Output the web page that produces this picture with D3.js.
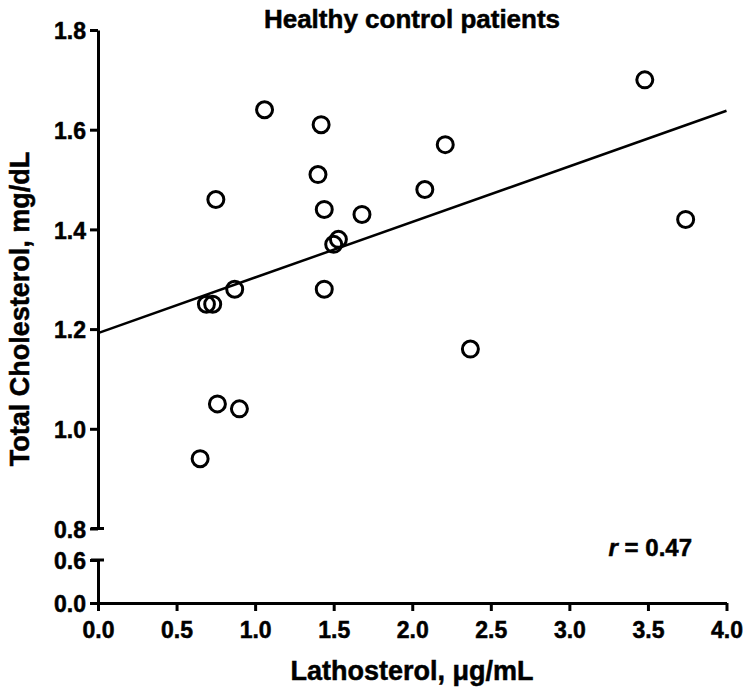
<!DOCTYPE html>
<html>
<head>
<meta charset="utf-8">
<script src="https://cdn.jsdelivr.net/npm/d3@7"></script>
<style>
  html, body { margin: 0; padding: 0; background: #fff; }
  svg { display: block; }
  text { font-family: "Liberation Sans", Arial, Helvetica, sans-serif; font-weight: bold; fill: #000; stroke: #000; stroke-width: 0.5px; }
</style>
</head>
<body>
<svg id="chart" width="751" height="695"></svg>
<script>
// ---- data ----
const lathosterol = [1.06, 1.42, 1.40, 0.75, 1.44, 1.68, 1.53, 1.50, 0.87, 1.44, 0.69, 0.73, 0.76, 0.90, 0.65, 3.48, 2.21, 2.08, 3.74, 2.37];
const cholesterol = [1.64, 1.61, 1.51, 1.46, 1.44, 1.43, 1.38, 1.37, 1.28, 1.28, 1.25, 1.25, 1.05, 1.04, 0.94, 1.70, 1.57, 1.48, 1.42, 1.16];
const fitLineX = [0, 4.0];
const fitLineY = [1.192, 1.638];
const xTicks = [0, 0.5, 1.0, 1.5, 2.0, 2.5, 3.0, 3.5, 4.0];
const yTicksUpper = [0.8, 1.0, 1.2, 1.4, 1.6, 1.8];
const yTicksLower = [0.0, 0.6];
const titleText = "Healthy control patients";
const xTitle = "Lathosterol, \u03BCg/mL";
const yTitle = "Total Cholesterol, mg/dL";
const rLabel = "0.47";

const svg = d3.select("#chart");

const x = d3.scaleLinear().domain([0, 4]).range([98, 726.5]);
const yUp = d3.scaleLinear().domain([0.8, 1.8]).range([528.5, 30]);
const yLow = d3.scaleLinear().domain([0, 0.6]).range([603, 560]);
const fmt = d3.format(".1f");

function styleAxis(g) {
  g.selectAll("path.domain").attr("stroke", "#000").attr("stroke-width", 3);
  g.selectAll(".tick line").attr("stroke", "#000").attr("stroke-width", 3);
  g.selectAll(".tick text").attr("font-size", 23).attr("font-weight", "bold")
    .attr("font-family", '"Liberation Sans", Arial, sans-serif').attr("fill", "#000");
}

// Upper y axis
const gUp = svg.append("g").attr("transform", "translate(98,0)")
  .call(d3.axisLeft(yUp).tickValues(yTicksUpper).tickFormat(fmt).tickSize(8).tickSizeOuter(0).tickPadding(4));
styleAxis(gUp);
gUp.selectAll(".tick text").attr("dy", "0.38em");

// Lower y axis
const gLow = svg.append("g").attr("transform", "translate(98,0)")
  .call(d3.axisLeft(yLow).tickValues(yTicksLower).tickFormat(fmt).tickSize(8).tickSizeOuter(0).tickPadding(4));
styleAxis(gLow);
gLow.selectAll(".tick text").attr("dy", "0.38em");

// break caps
[[yUp(0.8)], [yLow(0.6)]].forEach(([yy]) => {
  svg.append("line").attr("x1", 91).attr("x2", 104).attr("y1", yy).attr("y2", yy)
    .attr("stroke", "#000").attr("stroke-width", 3);
});

// X axis
const gx = svg.append("g").attr("transform", `translate(0,${yLow(0)})`)
  .call(d3.axisBottom(x).tickValues(xTicks).tickFormat(fmt).tickSize(8).tickSizeOuter(0).tickPadding(11));
styleAxis(gx);

// Regression line
svg.append("line")
  .attr("x1", x(fitLineX[0])).attr("y1", yUp(fitLineY[0]))
  .attr("x2", x(fitLineX[1])).attr("y2", yUp(fitLineY[1]))
  .attr("stroke", "#000").attr("stroke-width", 2.5);

// Points
svg.append("g").selectAll("circle")
  .data(lathosterol.map((v, i) => [v, cholesterol[i]]))
  .join("circle")
  .attr("cx", d => x(d[0]))
  .attr("cy", d => yUp(d[1]))
  .attr("r", 8)
  .attr("fill", "none")
  .attr("stroke", "#000")
  .attr("stroke-width", 3);

// Title
svg.append("text").attr("x", 412).attr("y", 28).attr("text-anchor", "middle")
  .attr("font-size", 26).text(titleText);

// X title
svg.append("text").attr("x", 412).attr("y", 680).attr("text-anchor", "middle")
  .attr("font-size", 27).text(xTitle);

// Y title
svg.append("text").attr("transform", "translate(29,309) rotate(-90)").attr("text-anchor", "middle")
  .attr("font-size", 27).text(yTitle);

// r label
const rt = svg.append("text").attr("x", 692).attr("y", 556).attr("text-anchor", "end").attr("font-size", 24);
rt.append("tspan").attr("font-style", "italic").text("r");
rt.append("tspan").text(" = " + rLabel);
</script>
</body>
</html>
